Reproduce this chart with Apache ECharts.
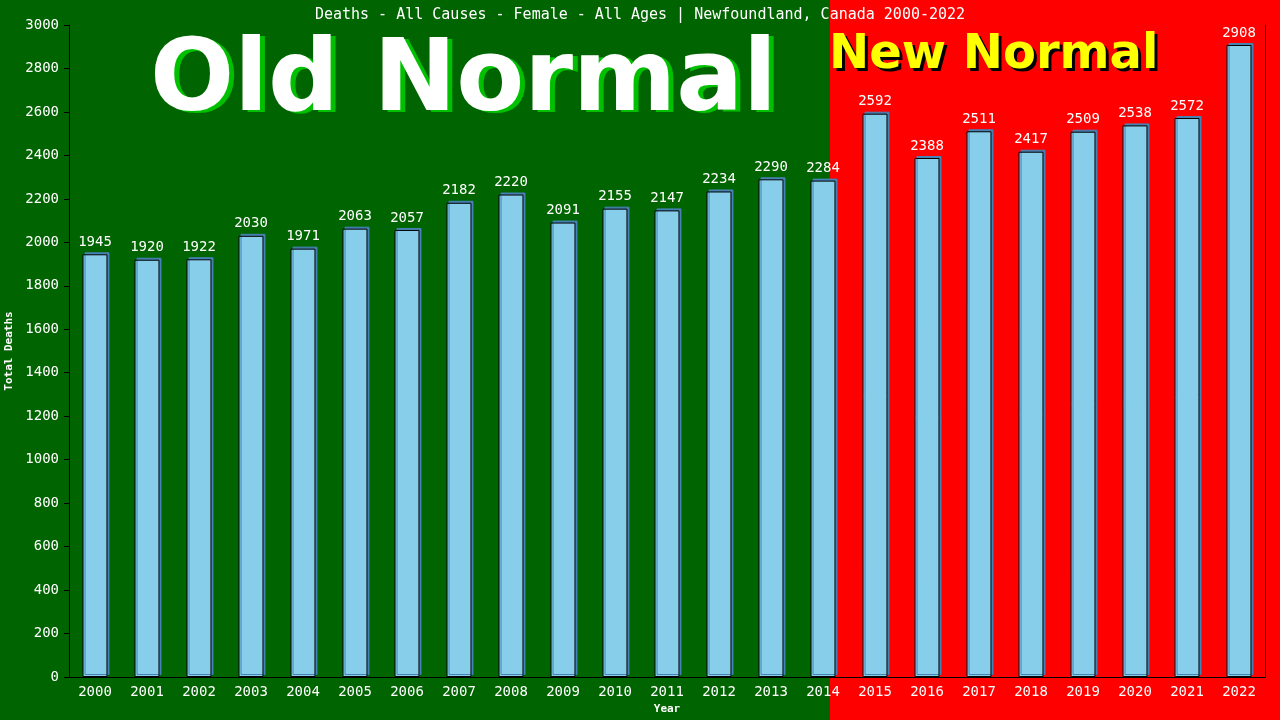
<!DOCTYPE html>
<html>
<head>
<meta charset="utf-8">
<script src="https://cdn.jsdelivr.net/npm/echarts@6/dist/echarts.min.js"></script>
<style>html,body{margin:0;padding:0;background:#ff0000;}#c{width:1280px;height:720px;}</style>
</head>
<body>
<div id="c"></div>
<script>
const years = ['2000','2001','2002','2003','2004','2005','2006','2007','2008','2009','2010','2011','2012','2013','2014','2015','2016','2017','2018','2019','2020','2021','2022'];
const deaths = [1945,1920,1922,2030,1971,2063,2057,2182,2220,2091,2155,2147,2234,2290,2284,2592,2388,2511,2417,2509,2538,2572,2908];
const titleText = 'Deaths - All Causes - Female - All Ages | Newfoundland, Canada 2000-2022';
const mono = '"DejaVu Sans Mono", "Liberation Mono", monospace';

const chart = echarts.init(document.getElementById('c'));
chart.setOption({
  backgroundColor: '#ff0000',
  animation: false,
  graphic: [
    { type: 'rect', z: -10, silent: true, shape: { x: 0, y: 0, width: 830, height: 720 }, style: { fill: '#006400' } },
    { type: 'text', z: 4, left: 155, top: 37, style: { text: 'Old Normal', font: 'bold 99px "DejaVu Sans"', fill: '#00c000' } },
    { type: 'text', z: 5, left: 150, top: 35, style: { text: 'Old Normal', font: 'bold 99px "DejaVu Sans"', fill: '#ffffff' } },
    { type: 'text', z: 4, left: 832, top: 35, style: { text: 'New Normal', font: 'bold 48px "DejaVu Sans"', fill: '#000000' } },
    { type: 'text', z: 5, left: 829, top: 32, style: { text: 'New Normal', font: 'bold 48px "DejaVu Sans"', fill: '#ffff00' } }
  ],
  title: {
    text: titleText, left: 'center', top: 3,
    textStyle: { color: '#ffffff', fontFamily: mono, fontSize: 15, fontWeight: 'normal' }
  },
  grid: { left: 69, right: 15, top: 25, bottom: 43, containLabel: false, outerBoundsMode: 'none' },
  xAxis: {
    type: 'category', data: years,
    name: 'Year', nameLocation: 'middle', nameGap: 27,
    nameTextStyle: { color: '#ffffff', fontFamily: mono, fontSize: 11, fontWeight: 'bold' },
    axisLine: { show: true, lineStyle: { color: '#000000', width: 1 } },
    axisTick: { show: false },
    axisLabel: { color: '#ffffff', fontFamily: mono, fontSize: 14, margin: 8 }
  },
  yAxis: [{
    type: 'value', min: 0, max: 3000, interval: 200,
    name: 'Total Deaths', nameLocation: 'middle', nameGap: 49, nameRotate: 90,
    nameTextStyle: { color: '#ffffff', fontFamily: mono, fontSize: 11, fontWeight: 'bold' },
    splitLine: { show: false },
    axisLine: { show: true, lineStyle: { color: '#000000', width: 1 } },
    axisTick: { show: true, length: 5, inside: false, lineStyle: { color: '#000000' } },
    axisLabel: { color: '#ffffff', fontFamily: mono, fontSize: 14, margin: 10, formatter: v => String(v) }
  }, {
    type: 'value', min: 0, max: 3000, interval: 200, position: 'right',
    splitLine: { show: false },
    axisLine: { show: true, lineStyle: { color: '#000000', width: 1 } },
    axisTick: { show: false }, axisLabel: { show: false }
  }],
  series: [{
    type: 'bar', data: deaths, barWidth: '48%', yAxisIndex: 0,
    itemStyle: { color: '#87ceeb', borderColor: '#000000', borderWidth: 1, shadowColor: '#4682b4', shadowOffsetX: 2, shadowOffsetY: -2, shadowBlur: 0 },
    label: { show: true, position: 'top', distance: 5, color: '#ffffff', fontFamily: mono, fontSize: 14 }
  }]
});
</script>
</body>
</html>
